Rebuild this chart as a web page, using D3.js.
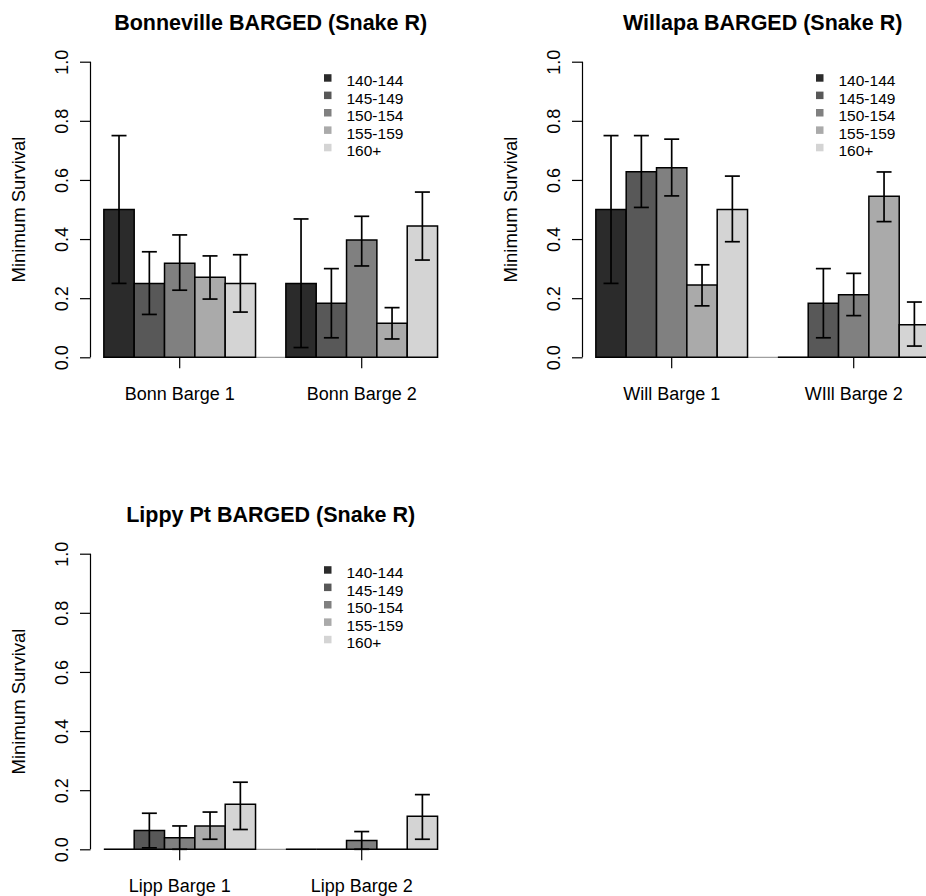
<!DOCTYPE html>
<html>
<head>
<meta charset="utf-8">
<script src="https://cdn.jsdelivr.net/npm/d3@7"></script>
<style>
  html, body { margin: 0; padding: 0; background: #ffffff; }
  svg { display: block; }
  text { font-family: "Liberation Sans", Arial, Helvetica, sans-serif; fill: #000; }
</style>
</head>
<body>
<svg id="chart" width="926" height="896"></svg>
<script>
// Fork length classes (mm) used as the series of every panel
const sizeClasses = ["140-144", "145-149", "150-154", "155-159", "160+"];
const classColors = ["#2b2b2b", "#585858", "#808080", "#aaaaaa", "#d4d4d4"];
const yTicks = [0, 0.2, 0.4, 0.6, 0.8, 1.0];

// Bonneville
const bonnTitle = "Bonneville BARGED (Snake R)";
const bonnGroups = ["Bonn Barge 1", "Bonn Barge 2"];
const bonnSurvival = [[0.50, 0.25, 0.318, 0.271, 0.25], [0.25, 0.183, 0.397, 0.115, 0.444]];
const bonnLower = [[0.25, 0.145, 0.227, 0.197, 0.153], [0.033, 0.066, 0.309, 0.062, 0.329]];
const bonnUpper = [[0.75, 0.357, 0.414, 0.343, 0.347], [0.468, 0.30, 0.477, 0.168, 0.559]];

// Willapa
const willTitle = "Willapa BARGED (Snake R)";
const willGroups = ["Will Barge 1", "WIll Barge 2"];
const willSurvival = [[0.50, 0.628, 0.641, 0.245, 0.50], [0, 0.183, 0.212, 0.545, 0.110]];
const willLower = [[0.25, 0.507, 0.546, 0.174, 0.391], [null, 0.066, 0.141, 0.459, 0.038]];
const willUpper = [[0.75, 0.75, 0.738, 0.313, 0.613], [null, 0.30, 0.284, 0.627, 0.187]];

// Lippy Point
const lippTitle = "Lippy Pt BARGED (Snake R)";
const lippGroups = ["Lipp Barge 1", "Lipp Barge 2"];
const lippSurvival = [[0, 0.064, 0.039, 0.079, 0.152], [0, 0, 0.030, 0, 0.112]];
const lippLower = [[null, 0.005, 0.0, 0.034, 0.067], [null, null, 0.0, null, 0.034]];
const lippUpper = [[null, 0.122, 0.079, 0.126, 0.227], [null, null, 0.060, null, 0.185]];

const panels = [
  { title: bonnTitle, groups: bonnGroups, values: bonnSurvival, lower: bonnLower, upper: bonnUpper, ox: 0, oy: 0 },
  { title: willTitle, groups: willGroups, values: willSurvival, lower: willLower, upper: willUpper, ox: 492, oy: 0 },
  { title: lippTitle, groups: lippGroups, values: lippSurvival, lower: lippLower, upper: lippUpper, ox: 0, oy: 492 }
];

const svg = d3.select("#chart");
const nClass = sizeClasses.length;

// Bar slot positions in bar-width units: one empty slot before each group
function slotLeft(g, i) { return 1 + g * (nClass + 1) + i; }

panels.forEach(p => {
  const root = svg.append("g").attr("transform", `translate(${p.ox},${p.oy})`);
  const nSlots = p.groups.length * (nClass + 1);
  const pad = 0.04 * (nSlots - 1);
  const x = d3.scaleLinear().domain([1 - pad, nSlots + pad]).range([90.5, 450.9]);
  const y = d3.scaleLinear().domain([0, 1]).range([357.3, 61.7]);
  const color = d3.scaleOrdinal().domain(sizeClasses).range(classColors);

  // title
  root.append("text")
    .attr("x", (x.range()[0] + x.range()[1]) / 2)
    .attr("y", 29.5)
    .attr("text-anchor", "middle")
    .style("font-size", "21.5px")
    .style("font-weight", "bold")
    .text(p.title);

  // y axis
  const yAxis = d3.axisLeft(y).tickValues(yTicks).tickFormat(d3.format(".1f")).tickSize(10.5).tickPadding(0);
  const ya = root.append("g").attr("transform", `translate(${x.range()[0]},0)`).call(yAxis);
  ya.select(".domain").attr("d", `M0,${y(1)}V${y(0)}`).attr("stroke", "#000").attr("stroke-width", 1.2);
  ya.selectAll(".tick line").attr("stroke", "#000").attr("stroke-width", 1.2);
  ya.selectAll(".tick text")
    .attr("x", null).attr("dy", null)
    .attr("transform", "translate(-22.5,0) rotate(-90)")
    .attr("text-anchor", "middle")
    .attr("fill", "#000")
    .style("font-size", "18px")
    .style("font-family", "'Liberation Sans', Arial, sans-serif");

  // y axis title
  root.append("text")
    .attr("transform", `translate(25,${(y(0) + y(1)) / 2}) rotate(-90)`)
    .attr("text-anchor", "middle")
    .style("font-size", "18.5px")
    .text("Minimum Survival");

  // baseline under the bars
  root.append("line")
    .attr("x1", x(slotLeft(0, 0))).attr("x2", x(slotLeft(p.groups.length - 1, nClass)))
    .attr("y1", y(0)).attr("y2", y(0))
    .attr("stroke", "#888").attr("stroke-width", 1);

  // group ticks and labels
  p.groups.forEach((gName, g) => {
    const cx = x(slotLeft(g, 0) + nClass / 2);
    root.append("line")
      .attr("x1", cx).attr("x2", cx)
      .attr("y1", y(0)).attr("y2", y(0) + 11)
      .attr("stroke", "#000").attr("stroke-width", 1.2);
    root.append("text")
      .attr("x", cx).attr("y", 400.3)
      .attr("text-anchor", "middle")
      .style("font-size", "18px")
      .text(gName);
  });

  // bars
  const bars = [];
  p.values.forEach((row, g) => row.forEach((v, i) => bars.push({
    g, i, cls: sizeClasses[i], v, lo: p.lower[g][i], hi: p.upper[g][i]
  })));

  root.append("g").selectAll("path.bar").data(bars).join("path")
    .attr("class", "bar")
    .attr("d", d => {
      const x0 = x(slotLeft(d.g, d.i)), x1 = x(slotLeft(d.g, d.i) + 1);
      return `M${x0},${y(0)}H${x1}V${y(d.v)}H${x0}Z`;
    })
    .attr("fill", d => color(d.cls))
    .attr("stroke", "#000")
    .attr("stroke-width", 1.5);

  // error bars
  const eb = root.append("g").selectAll("g.err").data(bars.filter(d => d.lo !== null)).join("g").attr("class", "err");
  const cxOf = d => x(slotLeft(d.g, d.i) + 0.5);
  eb.append("line")
    .attr("x1", cxOf).attr("x2", cxOf)
    .attr("y1", d => y(d.lo)).attr("y2", d => y(d.hi))
    .attr("stroke", "#000").attr("stroke-width", 1.7);
  [d => d.lo, d => d.hi].forEach(acc => {
    eb.append("line")
      .attr("x1", d => cxOf(d) - 7.5).attr("x2", d => cxOf(d) + 7.5)
      .attr("y1", d => y(acc(d))).attr("y2", d => y(acc(d)))
      .attr("stroke", "#000").attr("stroke-width", 1.7);
  });

  // legend
  const leg = root.append("g").selectAll("g").data(sizeClasses).join("g")
    .attr("transform", (d, k) => `translate(${x.range()[0] + 233.5},${78 + k * 17.4})`);
  leg.append("rect")
    .attr("x", 0).attr("y", -3.8).attr("width", 7.5).attr("height", 7.5)
    .attr("fill", d => color(d));
  leg.append("text")
    .attr("x", 22.5).attr("y", 8.4)
    .style("font-size", "15.5px")
    .text(d => d);
});
</script>
</body>
</html>
